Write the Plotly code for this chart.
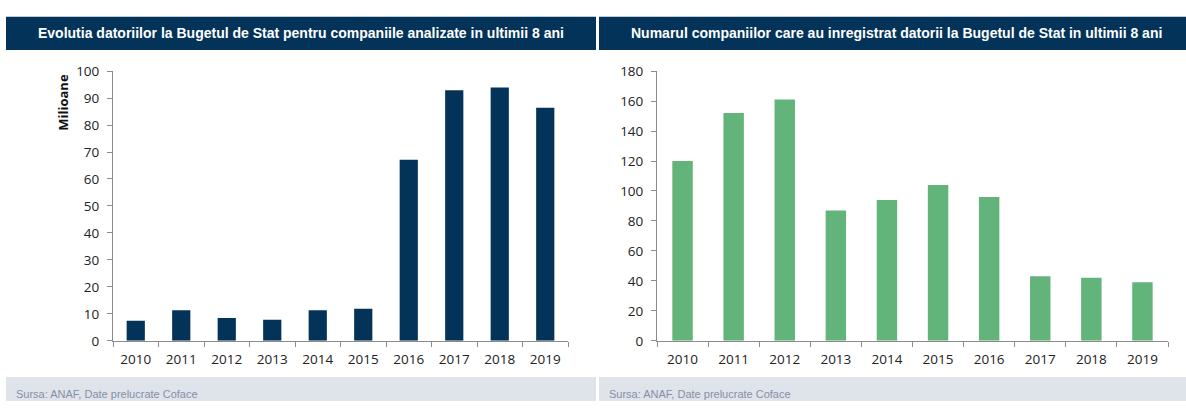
import plotly.graph_objects as go

years = ["2010", "2011", "2012", "2013", "2014", "2015", "2016", "2017", "2018", "2019"]
debt_millions = [7.4, 11.3, 8.4, 7.8, 11.3, 11.9, 67.1, 92.9, 93.9, 86.4]
company_count = [120, 152, 161, 87, 94, 104, 96, 43, 42, 39]

title_left = "Evolutia datoriilor la Bugetul de Stat pentru companiile analizate in ultimii 8 ani"
title_right = "Numarul companiilor care au inregistrat datorii la Bugetul de Stat in ultimii 8 ani"
source_text = "Sursa: ANAF, Date prelucrate Coface"
y_title_left = "Milioane"

W, H = 1186, 410
NAVY = "#033359"
GREEN = "#62B47A"
AXIS = "#8c8c8c"
TICKFONT = dict(family="Open Sans, Liberation Sans, Arial", size=13.5, color="#222222")

def px(x):
    return x / W

def py(y):
    return 1 - y / H

fig = go.Figure()
fig.add_trace(go.Bar(x=years, y=debt_millions, marker=dict(color=NAVY, line=dict(width=0)),
                     xaxis="x", yaxis="y", showlegend=False))
fig.add_trace(go.Bar(x=years, y=company_count, marker=dict(color=GREEN, line=dict(width=0)),
                     xaxis="x2", yaxis="y2", showlegend=False))

ydom = [py(347), py(65)]
common_x = dict(type="category", showgrid=False, showline=True, linecolor=AXIS, linewidth=1,
                ticks="outside", tickson="boundaries", ticklen=5, tickcolor=AXIS,
                ticklabelstandoff=6,
                tickfont=TICKFONT, zeroline=False, fixedrange=True)
common_y = dict(showgrid=False, showline=True, linecolor=AXIS, linewidth=1,
                ticks="outside", ticklen=5, tickcolor=AXIS, tickfont=TICKFONT,
                ticklabelstandoff=5,
                zeroline=False, fixedrange=True)

fig.update_layout(
    width=W, height=H,
    margin=dict(l=0, r=0, t=0, b=0),
    paper_bgcolor="white", plot_bgcolor="white",
    bargap=0.6,
    xaxis=dict(domain=[px(113), px(568)], anchor="y", **common_x),
    yaxis=dict(domain=ydom, anchor="x", range=[0, 100], dtick=10, **common_y),
    xaxis2=dict(domain=[px(657), px(1168)], anchor="y2", **common_x),
    yaxis2=dict(domain=ydom, anchor="x2", range=[0, 180], dtick=20, **common_y),
    shapes=[
        dict(type="rect", xref="paper", yref="paper", x0=px(6), x1=px(596), y0=py(43), y1=py(8),
             fillcolor=NAVY, line=dict(width=0), layer="below"),
        dict(type="rect", xref="paper", yref="paper", x0=px(599), x1=px(1186), y0=py(43), y1=py(8),
             fillcolor=NAVY, line=dict(width=0), layer="below"),
        dict(type="rect", xref="paper", yref="paper", x0=px(6), x1=px(596), y0=0, y1=py(385),
             fillcolor="#DFE3EA", line=dict(width=0), layer="below"),
        dict(type="rect", xref="paper", yref="paper", x0=px(599), x1=px(1186), y0=0, y1=py(385),
             fillcolor="#DFE3EA", line=dict(width=0), layer="below"),
    ],
    annotations=[
        dict(text="<b>" + title_left + "</b>", xref="paper", yref="paper", x=px(301), y=py(25.5),
             showarrow=False, xanchor="center", yanchor="middle",
             font=dict(family="Liberation Sans, Arial", size=14, color="white")),
        dict(text="<b>" + title_right + "</b>", xref="paper", yref="paper", x=px(896), y=py(25.5),
             showarrow=False, xanchor="center", yanchor="middle",
             font=dict(family="Liberation Sans, Arial", size=14, color="white")),
        dict(text=source_text, xref="paper", yref="paper", x=px(14), y=py(403),
             showarrow=False, xanchor="left", yanchor="middle",
             font=dict(family="Liberation Sans, Arial", size=11, color="#8590A8")),
        dict(text=source_text, xref="paper", yref="paper", x=px(607), y=py(403),
             showarrow=False, xanchor="left", yanchor="middle",
             font=dict(family="Liberation Sans, Arial", size=11, color="#8590A8")),
        dict(text="<b>" + y_title_left + "</b>", xref="paper", yref="paper", x=px(63), y=py(98),
             showarrow=False, xanchor="center", yanchor="middle", textangle=-90,
             font=dict(family="Open Sans, Liberation Sans, Arial", size=13, color="#111111")),
    ],
)

fig.write_html("out.html", config={"displayModeBar": False},
               post_script="document.body.style.margin='0px';document.body.style.padding='0px';document.body.style.overflow='hidden';")
